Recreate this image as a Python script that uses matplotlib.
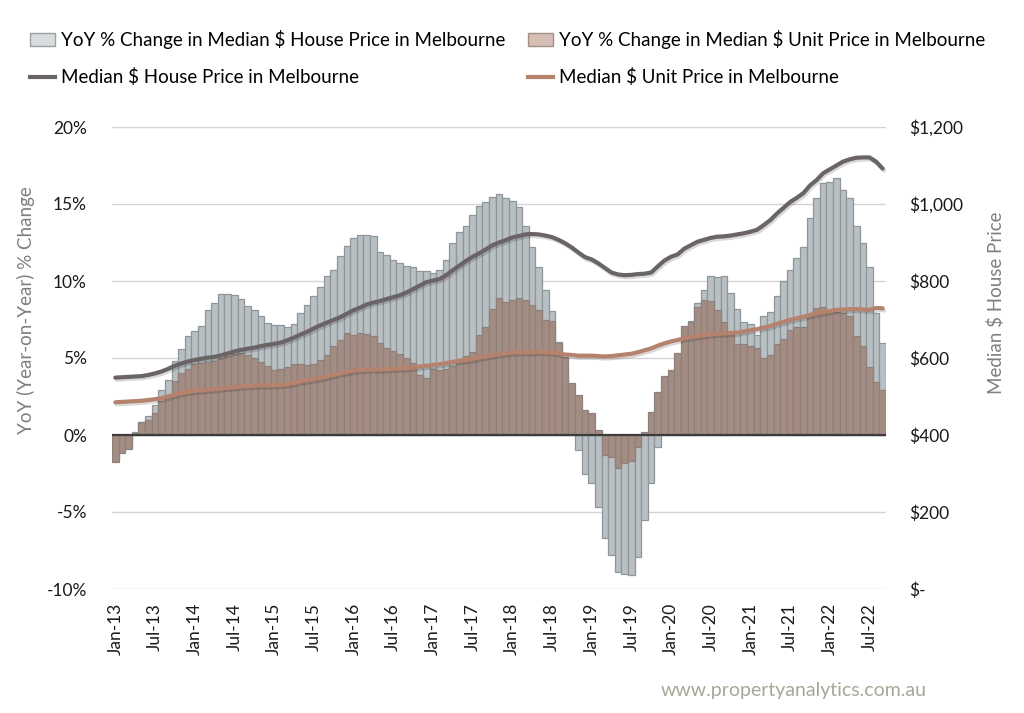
import matplotlib
matplotlib.use("Agg")
import matplotlib.pyplot as plt
import matplotlib.patheffects as pe
from matplotlib.patches import Patch
from matplotlib.lines import Line2D
import numpy as np

plt.rcParams['font.family'] = ['Lato', 'DejaVu Sans']

# monthly, Jan-13 .. Sep-22
house_yoy = [-1.5, -1.0, -0.6, 0.2, 0.87, 1.23, 1.95, 2.9, 3.6, 4.8, 5.6, 6.4,
             6.75, 7.1, 8.1, 8.55, 9.15, 9.15, 9.07, 8.85, 8.4, 8.1, 7.7, 7.3,
             7.15, 7.15, 7.0, 7.2, 7.95, 8.45, 9.0, 9.6, 10.3, 10.7, 11.6, 12.3,
             12.8, 13.0, 13.0, 12.9, 11.9, 11.7, 11.35, 11.15, 11.0, 10.9, 10.65, 10.65,
             10.5, 10.7, 11.35, 12.45, 13.2, 13.6, 14.3, 14.9, 15.1, 15.45, 15.65, 15.4,
             15.2, 14.8, 13.6, 12.2, 10.9, 9.4, 8.05, 6.05, 4.2, 1.6, -1.0, -2.5,
             -3.1, -4.65, -6.7, -7.8, -8.9, -9.0, -9.1, -7.9, -5.5, -3.1, -0.75, 0.8,
             1.8, 2.6, 5.0, 7.4, 8.6, 9.4, 10.35, 10.25, 10.3, 9.25, 8.2, 7.35,
             7.2, 6.5, 7.7, 8.0, 9.0, 10.0, 10.7, 11.5, 12.2, 14.1, 15.4, 16.35,
             16.45, 16.7, 15.9, 15.4, 13.6, 12.5, 10.9, 7.95, 6.0]

unit_yoy = [-1.75, -1.2, -0.9, 0.1, 0.87, 0.97, 1.4, 2.2, 2.6, 3.5, 4.0, 4.3,
            4.6, 4.7, 4.75, 4.8, 5.0, 5.15, 5.25, 5.3, 5.2, 5.0, 4.75, 4.5,
            4.2, 4.3, 4.4, 4.6, 4.6, 4.55, 4.6, 4.9, 5.2, 5.8, 6.2, 6.6,
            6.5, 6.6, 6.55, 6.4, 6.0, 5.65, 5.45, 5.25, 5.0, 4.65, 3.9, 3.7,
            4.3, 4.2, 4.3, 4.45, 4.8, 5.1, 5.4, 6.5, 7.0, 8.2, 8.9, 8.65,
            8.75, 8.9, 8.75, 8.45, 8.1, 7.5, 7.4, 6.0, 5.05, 3.35, 2.6, 1.6,
            1.4, 0.3, -1.3, -1.4, -2.15, -1.85, -1.7, -0.75, 0.2, 1.5, 2.8, 3.8,
            4.25, 5.3, 7.1, 7.35, 8.3, 8.75, 8.7, 8.1, 7.35, 6.6, 5.9, 5.9,
            5.8, 5.65, 5.0, 5.2, 5.9, 6.25, 6.8, 7.0, 7.0, 7.8, 8.25, 8.3,
            8.1, 8.0, 7.95, 7.7, 6.4, 5.8, 4.4, 3.45, 2.95]

house_price = [549, 550, 551, 552, 553, 556, 560, 565, 572, 580, 586, 591,
               595, 598, 601, 603, 607, 612, 617, 621, 624, 627, 631, 634,
               637, 640, 646, 653, 661, 668, 677, 685, 692, 699, 706, 715,
               724, 731, 739, 744, 748, 753, 758, 763, 770, 779, 788, 797,
               801, 805, 815, 828, 840, 852, 863, 872, 882, 893, 900, 906,
               913, 917, 921, 922, 921, 918, 914, 907, 898, 887, 874, 862,
               856, 846, 834, 822, 817, 815, 816, 818, 819, 822, 838, 853,
               863, 869, 884, 893, 902, 907, 912, 915, 916, 918, 921, 924,
               928, 933, 945, 958, 975, 990, 1005, 1016, 1028, 1048, 1062, 1080,
               1090, 1100, 1110, 1116, 1120, 1121, 1121, 1110, 1092]

unit_price = [485, 486, 487, 488, 489, 491, 493, 496, 500, 505, 509, 512,
              515, 516, 518, 519, 521, 523, 524, 526, 527, 528, 529, 529,
              529, 530, 532, 535, 539, 542, 545, 548, 552, 556, 560, 564,
              567, 569, 570, 570, 570, 571, 572, 573, 574, 575, 578, 580,
              582, 584, 587, 590, 593, 595, 597, 601, 604, 607, 610, 612,
              614, 615, 615, 615, 616, 615, 614, 612, 609, 608, 606, 606,
              606, 605, 604, 605, 607, 609, 611, 615, 620, 625, 632, 638,
              643, 647, 651, 654, 657, 659, 661, 663, 664, 665, 666, 669,
              672, 675, 679, 683, 689, 694, 699, 703, 707, 712, 716, 719,
              722, 725, 726, 727, 727, 726, 725, 730, 729]

months = ['Jan', 'Feb', 'Mar', 'Apr', 'May', 'Jun', 'Jul', 'Aug', 'Sep', 'Oct', 'Nov', 'Dec']
labels = [f"{months[i % 12]}-{13 + i // 12}" for i in range(len(house_yoy))]

x = np.arange(len(house_yoy))

fig = plt.figure(figsize=(10.24, 7.13), dpi=100)
ax = fig.add_axes([112 / 1024, 1 - 589 / 713, 774 / 1024, 462 / 713])
ax2 = ax.twinx()

grid_c = '#d4d4d4'
for v in [-10, -5, 5, 10, 15, 20]:
    ax.axhline(v, color=grid_c, lw=1, zorder=0)

ax.bar(x, house_yoy, width=1.0, color='#b9c0c3', edgecolor='#8f969a', linewidth=0.9, zorder=2)
ax.bar(x, unit_yoy, width=1.0, color='#a38c82', edgecolor='#8e817b', linewidth=0.9, zorder=3)
ax.axhline(0, color='#3c3c3c', lw=1.6, zorder=4)

shadow = [pe.SimpleLineShadow(offset=(1, -1.5), alpha=0.15), pe.Normal()]
ax2.plot(x, house_price, color='#6a6466', lw=3, solid_capstyle='round', path_effects=shadow)
ax2.plot(x, unit_price, color='#b5826d', lw=3, solid_capstyle='round', path_effects=shadow)

ax.set_xlim(-0.5, len(x) - 0.5)
ax.set_ylim(-10, 20)
ax2.set_ylim(0, 1200)

ax.set_yticks([-10, -5, 0, 5, 10, 15, 20])
ax.set_yticklabels([f"{v}%" for v in [-10, -5, 0, 5, 10, 15, 20]])
ax2.set_yticks([0, 200, 400, 600, 800, 1000, 1200])
ax2.set_yticklabels(['$-', '$200', '$400', '$600', '$800', '$1,000', '$1,200'])

ax.set_xticks(x[::6])
ax.set_xticklabels(labels[::6], rotation=90)

for a in (ax, ax2):
    for s in a.spines.values():
        s.set_visible(False)
    a.tick_params(length=0, labelsize=12.5, labelcolor='#1a1a1a')
ax.tick_params(axis='y', pad=18)
ax.tick_params(axis='x', pad=10)
ax2.tick_params(axis='y', pad=17)

ax.set_ylabel('YoY (Year-on-Year) % Change', fontsize=13.5, color='#7f7f7f')
ax.yaxis.set_label_coords(-0.1, 0.604)
ax2.set_ylabel('Median $ House Price', fontsize=13.5, color='#7f7f7f')
ax2.yaxis.set_label_coords(1.131, 0.619)

handles = [Patch(facecolor='#d8dcde', edgecolor='#9aa0a3'),
           Line2D([], [], color='#6a6466', lw=3),
           Patch(facecolor='#d5c0b6', edgecolor='#a08e86'),
           Line2D([], [], color='#b5826d', lw=3)]
names = ['YoY % Change in Median $ House Price in Melbourne',
         'Median $ House Price in Melbourne',
         'YoY % Change in Median $ Unit Price in Melbourne',
         'Median $ Unit Price in Melbourne']
fig.legend(handles, names, ncol=2, loc='upper left', bbox_to_anchor=(0.022, 0.968),
           frameon=False, fontsize=13.5, handlelength=1.35, handletextpad=0.3,
           columnspacing=1.2, labelspacing=1.0, borderaxespad=0)

fig.text(0.905, 0.031, 'www.propertyanalytics.com.au', ha='right', va='center',
         fontsize=14, color='#a8a696')

fig.savefig('out.png', dpi=100)
